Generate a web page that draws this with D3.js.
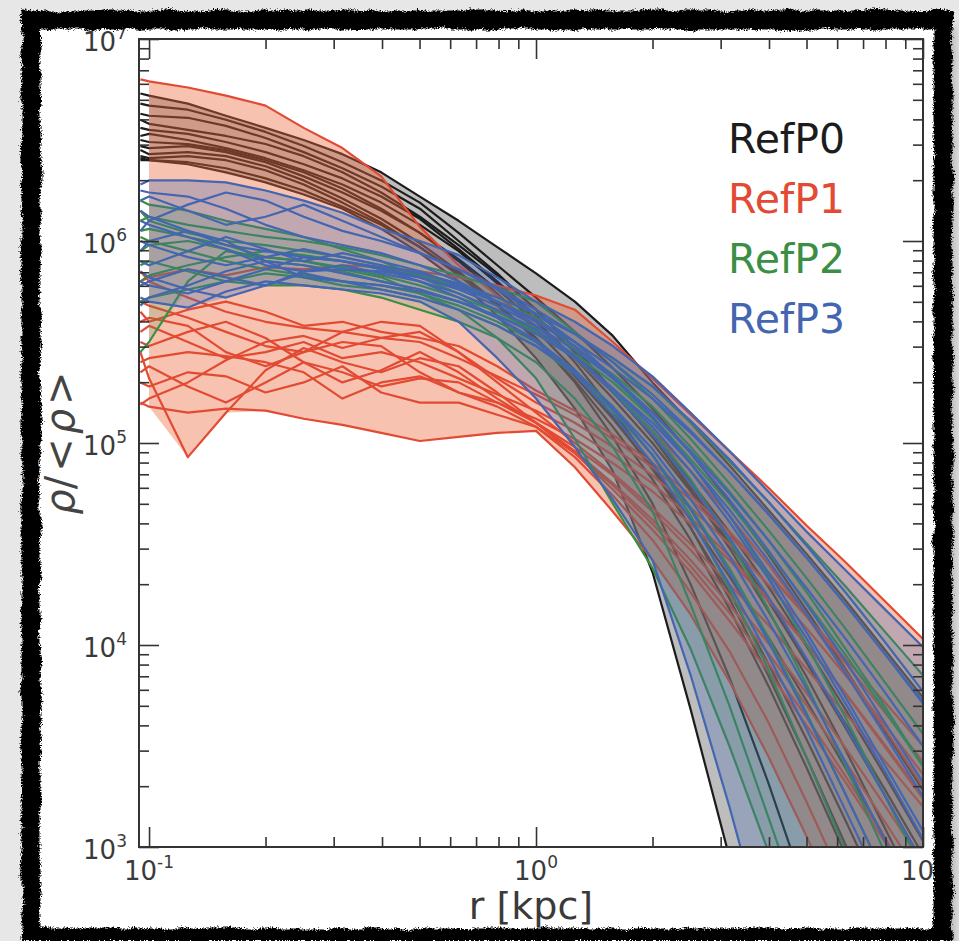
<!DOCTYPE html>
<html>
<head>
<meta charset="utf-8">
<script src="https://cdn.jsdelivr.net/npm/d3@7"></script>
<style>
  html, body { margin: 0; padding: 0; background: #e7e7e7; }
  svg { display: block; }
  text { font-family: "DejaVu Sans", sans-serif; }
</style>
</head>
<body>
<svg id="fig" width="959" height="941"></svg>
<script>
// Radial bins in kpc (first bin sits just inside the 0.1 kpc tick)
const radii = [0.095, 0.1, 0.126, 0.158, 0.2, 0.251, 0.316, 0.398, 0.501, 0.631, 0.794,
               1.0, 1.26, 1.58, 2.0, 2.51, 3.16, 3.98, 5.01, 6.31, 7.94, 10.0];

// Density profiles, log10(rho/<rho>), one row per halo
const refP0 = [
  [6.73,6.72,6.68,6.62,6.56,6.50,6.43,6.34,6.22,6.10,5.97,5.84,5.70,5.53,5.30,5.10,4.89,4.67,4.45,4.22,3.98,3.74],
  [6.68,6.67,6.65,6.60,6.54,6.47,6.39,6.30,6.19,6.04,5.88,5.72,5.55,5.37,5.17,4.95,4.71,4.45,4.17,3.88,3.58,3.28],
  [6.63,6.62,6.61,6.57,6.51,6.44,6.36,6.27,6.16,6.00,5.84,5.66,5.47,5.26,5.03,4.77,4.48,4.17,3.84,3.48,3.10,2.72],
  [6.60,6.58,6.55,6.52,6.48,6.42,6.34,6.24,6.12,5.98,5.83,5.66,5.47,5.26,5.03,4.78,4.51,4.22,3.91,3.59,3.26,2.92],
  [6.56,6.55,6.53,6.49,6.44,6.38,6.31,6.22,6.11,5.96,5.80,5.63,5.45,5.25,5.04,4.81,4.56,4.29,3.99,3.68,3.36,3.03],
  [6.52,6.53,6.50,6.46,6.41,6.35,6.28,6.19,6.08,5.95,5.79,5.61,5.40,5.16,4.89,4.58,4.23,3.85,3.44,3.01,2.56,2.10],
  [6.50,6.49,6.48,6.45,6.40,6.34,6.26,6.16,6.04,5.90,5.74,5.56,5.36,5.13,4.87,4.58,4.26,3.91,3.53,3.13,2.72,2.30],
  [6.47,6.46,6.47,6.44,6.39,6.32,6.24,6.15,6.04,5.91,5.76,5.60,5.42,5.22,5.00,4.76,4.50,4.22,3.92,3.61,3.29,2.96],
  [6.45,6.43,6.44,6.42,6.37,6.30,6.21,6.11,5.99,5.85,5.69,5.51,5.31,5.08,4.82,4.52,4.18,3.80,3.39,2.96,2.52,2.10],
  [6.42,6.41,6.42,6.40,6.35,6.28,6.19,6.09,5.97,5.83,5.68,5.52,5.33,5.12,4.88,4.62,4.34,4.04,3.72,3.39,3.05,2.70],
  [6.41,6.40,6.39,6.36,6.31,6.25,6.17,6.08,5.97,5.84,5.69,5.52,5.30,5.03,4.70,4.30,3.84,3.32,2.76,2.20,1.70,1.20],
  [6.40,6.40,6.38,6.34,6.29,6.23,6.16,6.06,5.94,5.80,5.63,5.42,5.17,4.86,4.36,3.68,2.95,2.20,1.50,0.90,0.50,0.10]
];
const refP1 = [
  [6.80,6.79,6.76,6.72,6.67,6.56,6.46,6.32,6.07,5.88,5.73,5.58,5.42,5.25,5.06,4.86,4.64,4.40,4.14,3.87,3.59,3.30],
  [5.80,5.82,5.86,5.83,5.87,5.86,5.88,5.87,5.85,5.82,5.78,5.73,5.66,5.50,5.32,5.14,4.96,4.78,4.59,4.41,4.22,4.03],
  [5.19,5.22,5.30,5.41,5.50,5.53,5.47,5.52,5.55,5.45,5.30,5.15,5.00,4.85,4.68,4.50,4.30,4.10,3.88,3.66,3.43,3.20],
  [5.45,5.32,4.93,5.15,5.36,5.47,5.40,5.35,5.42,5.38,5.25,5.10,4.95,4.77,4.57,4.36,4.12,3.87,3.60,3.32,3.03,2.74],
  [5.20,5.18,5.15,5.17,5.16,5.12,5.09,5.05,5.01,5.03,5.05,5.06,4.88,4.66,4.42,4.15,3.82,3.45,3.05,2.60,2.20,1.80],
  [5.60,5.62,5.58,5.45,5.38,5.45,5.55,5.60,5.58,5.45,5.32,5.20,5.10,4.98,4.84,4.68,4.50,4.30,4.08,3.85,3.61,3.36],
  [5.50,5.48,5.55,5.60,5.52,5.40,5.30,5.36,5.45,5.35,5.22,5.10,4.96,4.80,4.62,4.42,4.20,3.96,3.70,3.42,3.13,2.83],
  [5.70,5.68,5.62,5.55,5.48,5.45,5.50,5.48,5.35,5.25,5.18,5.08,4.93,4.74,4.52,4.26,3.97,3.62,3.22,2.80,2.40,2.00],
  [5.40,5.42,5.45,5.43,5.40,5.35,5.22,5.30,5.33,5.25,5.20,5.12,5.02,4.90,4.76,4.60,4.42,4.22,4.00,3.76,3.51,3.25],
  [5.85,5.80,5.72,5.65,5.60,5.57,5.55,5.52,5.50,5.42,5.33,5.24,5.14,5.02,4.88,4.72,4.54,4.35,4.14,3.93,3.72,3.50],
  [5.30,5.28,5.35,5.33,5.25,5.30,5.38,5.25,5.20,5.20,5.14,5.08,4.95,4.79,4.60,4.39,4.16,3.91,3.64,3.35,3.05,2.74],
  [5.55,5.58,5.50,5.42,5.45,5.50,5.42,5.45,5.40,5.32,5.24,5.16,5.06,4.94,4.80,4.63,4.44,4.23,4.00,3.76,3.50,3.24],
  [5.65,5.60,5.66,5.70,5.65,5.58,5.60,5.55,5.52,5.48,5.38,5.26,5.16,5.04,4.90,4.74,4.56,4.36,4.14,3.91,3.67,3.42],
  [5.35,5.38,5.28,5.20,5.30,5.40,5.35,5.28,5.32,5.30,5.20,5.10,4.98,4.84,4.66,4.47,4.25,4.01,3.76,3.49,3.21,2.92]
];
const refP2 = [
  [6.10,6.12,6.08,6.05,6.02,6.00,5.97,5.93,5.88,5.83,5.77,5.70,5.55,5.40,5.22,5.02,4.80,4.57,4.33,4.08,3.82,3.56],
  [5.45,5.50,5.80,5.95,5.92,5.90,5.86,5.82,5.74,5.66,5.52,5.32,5.02,4.70,4.38,3.98,3.50,2.98,2.40,1.80,1.20,0.60],
  [5.95,5.98,6.00,5.96,5.90,5.88,5.85,5.80,5.76,5.70,5.63,5.55,5.44,5.30,5.12,4.90,4.64,4.34,4.00,3.64,3.26,2.88],
  [6.20,6.18,6.15,6.10,6.06,6.02,5.96,5.90,5.82,5.74,5.65,5.55,5.42,5.26,5.06,4.82,4.52,4.18,3.80,3.40,2.98,2.56],
  [5.80,5.83,5.88,5.92,5.95,5.93,5.90,5.86,5.82,5.77,5.70,5.62,5.48,5.32,5.13,4.92,4.70,4.46,4.21,3.95,3.68,3.40],
  [6.02,6.00,5.95,5.90,5.86,5.83,5.80,5.78,5.74,5.68,5.60,5.50,5.36,5.18,4.94,4.64,4.28,3.88,3.44,2.98,2.50,2.00],
  [5.70,5.72,5.76,5.80,5.84,5.82,5.78,5.76,5.72,5.66,5.58,5.48,5.34,5.16,4.94,4.68,4.38,4.04,3.66,3.26,2.86,2.45],
  [6.15,6.10,6.04,6.00,5.98,5.95,5.92,5.88,5.83,5.78,5.72,5.64,5.54,5.42,5.28,5.10,4.91,4.71,4.50,4.29,4.07,3.85],
  [5.88,5.90,5.85,5.80,5.78,5.78,5.76,5.72,5.66,5.60,5.52,5.40,5.22,4.98,4.66,4.20,3.70,3.15,2.60,2.00,1.40,0.80],
  [6.05,6.06,6.02,5.98,5.92,5.90,5.87,5.83,5.78,5.72,5.65,5.57,5.47,5.34,5.18,4.98,4.76,4.52,4.26,3.98,3.70,3.40]
];
const refP3 = [
  [6.28,6.30,6.30,6.29,6.25,6.20,6.14,6.06,6.00,5.93,5.82,5.70,5.60,5.48,5.33,5.15,4.96,4.76,4.56,4.37,4.18,3.99],
  [6.20,6.22,6.15,6.08,6.12,6.18,6.10,6.02,5.94,5.86,5.77,5.66,5.54,5.40,5.24,5.06,4.86,4.65,4.43,4.20,3.96,3.72],
  [5.72,5.70,5.67,5.75,5.80,5.78,5.76,5.74,5.70,5.60,5.42,5.22,4.98,4.72,4.42,3.85,3.20,2.50,1.80,1.20,0.80,0.40],
  [6.05,6.10,6.18,6.24,6.20,6.12,6.05,6.00,5.94,5.86,5.76,5.64,5.50,5.33,5.13,4.90,4.64,4.36,4.06,3.74,3.41,3.08],
  [5.90,5.88,5.95,6.02,5.96,5.90,5.94,5.90,5.85,5.78,5.70,5.60,5.48,5.33,5.15,4.95,4.72,4.47,4.20,3.92,3.62,3.32],
  [5.78,5.80,5.86,5.82,5.78,5.85,5.88,5.84,5.80,5.74,5.66,5.56,5.43,5.27,5.08,4.86,4.61,4.33,4.03,3.71,3.38,3.04],
  [6.15,6.12,6.05,5.98,5.95,5.92,5.90,5.87,5.82,5.76,5.68,5.58,5.46,5.32,5.15,4.96,4.75,4.52,4.28,4.03,3.77,3.50],
  [5.85,5.82,5.76,5.72,5.78,5.84,5.80,5.76,5.72,5.66,5.58,5.48,5.35,5.18,4.97,4.72,4.44,4.12,3.78,3.42,3.04,2.66],
  [6.00,5.98,5.92,5.88,5.92,5.96,5.92,5.88,5.84,5.79,5.72,5.64,5.54,5.42,5.28,5.11,4.92,4.71,4.49,4.26,4.02,3.77],
  [6.25,6.24,6.22,6.16,6.08,6.02,5.98,5.94,5.88,5.80,5.70,5.58,5.43,5.25,5.04,4.80,4.53,4.24,3.93,3.60,3.26,2.92],
  [5.95,6.00,6.05,6.00,5.90,5.82,5.80,5.78,5.75,5.70,5.63,5.54,5.42,5.27,5.10,4.90,4.67,4.42,4.15,3.86,3.56,3.25],
  [5.68,5.72,5.78,5.85,5.90,5.88,5.84,5.80,5.76,5.70,5.62,5.51,5.36,5.17,4.94,4.67,4.36,4.02,3.65,3.26,2.86,2.45],
  [6.10,6.08,6.02,5.96,5.88,5.85,5.86,5.85,5.82,5.77,5.70,5.61,5.50,5.37,5.22,5.05,4.86,4.65,4.43,4.20,3.96,3.71],
  [5.80,5.78,5.74,5.80,5.86,5.92,5.90,5.86,5.80,5.72,5.62,5.50,5.34,5.14,4.90,4.62,4.30,3.95,3.58,3.18,2.78,2.36]
];

const seriesNames = ["RefP0", "RefP1", "RefP2", "RefP3"];
const seriesProfiles = [refP0, refP1, refP2, refP3];
const seriesColors = ["#1c1c1c", "#e24a33", "#3a8f44", "#4466b0"];
const fillColors = ["#000000", "#ec6a3a", "#3a8f44", "#4466b0"];
const fillOpacity = [0.26, 0.4, 0.18, 0.3];

const xMajor = [0.1, 1, 10];
const xMajorExp = ["-1", "0", "1"];
const yMajor = [1e3, 1e4, 1e5, 1e6, 1e7];
const yMajorExp = ["3", "4", "5", "6", "7"];

const W = 959, H = 941;
const plot = { left: 139, right: 923, top: 39, bottom: 847 };

const svg = d3.select("#fig");
const defs = svg.append("defs");

// Worn black photo border: coarse wobble plus fine jagged edge
const rough = defs.append("filter").attr("id", "rough")
  .attr("filterUnits", "userSpaceOnUse")
  .attr("x", 0).attr("y", 0).attr("width", W).attr("height", H);
rough.append("feTurbulence").attr("type", "fractalNoise").attr("baseFrequency", 0.06)
  .attr("numOctaves", 2).attr("seed", 2).attr("result", "coarse");
rough.append("feDisplacementMap").attr("in", "SourceGraphic").attr("in2", "coarse")
  .attr("scale", 6).attr("xChannelSelector", "R").attr("yChannelSelector", "G").attr("result", "wob");
rough.append("feTurbulence").attr("type", "fractalNoise").attr("baseFrequency", 0.7)
  .attr("numOctaves", 2).attr("seed", 4).attr("result", "fine");
rough.append("feDisplacementMap").attr("in", "wob").attr("in2", "fine")
  .attr("scale", 6).attr("xChannelSelector", "R").attr("yChannelSelector", "G");

const shadow = defs.append("filter").attr("id", "shadow")
  .attr("filterUnits", "userSpaceOnUse")
  .attr("x", 0).attr("y", 0).attr("width", W).attr("height", H);
shadow.append("feGaussianBlur").attr("stdDeviation", 6);

defs.append("clipPath").attr("id", "plotClip").append("rect")
  .attr("x", plot.left).attr("y", plot.top)
  .attr("width", plot.right - plot.left).attr("height", plot.bottom - plot.top);

// page background, shadow and white card
svg.append("rect").attr("width", W).attr("height", H).attr("fill", "#e7e7e7");
svg.append("rect").attr("x", 40).attr("y", 26).attr("width", 914).attr("height", 930)
  .attr("fill", "#000").attr("opacity", 0.28).attr("filter", "url(#shadow)");
svg.append("rect").attr("x", 31).attr("y", 20).attr("width", 912).attr("height", 930).attr("fill", "#fff");

// scales
const x = d3.scaleLog().domain([0.0942, 10]).range([plot.left, plot.right]);
const y = d3.scaleLog().domain([1e3, 1e7]).range([plot.bottom, plot.top]);

const line = d3.line()
  .x((d, i) => x(radii[i]))
  .y(d => y(Math.pow(10, d)));

const area = d3.area()
  .x(d => x(d.r))
  .y0(d => y(Math.pow(10, d.lo)))
  .y1(d => y(Math.pow(10, d.hi)));

const dataLayer = svg.append("g").attr("clip-path", "url(#plotClip)");

// each run: its min/max envelope, then its profiles, one run after another
seriesProfiles.forEach((profiles, s) => {
  const env = radii.slice(1).map((r, j) => {
    const vals = profiles.map(p => p[j + 1]);
    return { r, lo: d3.min(vals), hi: d3.max(vals) };
  });
  const g = dataLayer.append("g").attr("class", seriesNames[s]);
  g.append("path").datum(env).attr("d", area)
    .attr("fill", fillColors[s]).attr("fill-opacity", fillOpacity[s]).attr("stroke", "none");
  g.selectAll("path.profile").data(profiles).join("path")
    .attr("class", "profile")
    .attr("d", line)
    .attr("fill", "none")
    .attr("stroke", seriesColors[s])
    .attr("stroke-width", 2.2)
    .attr("stroke-linejoin", "round");
});

// axes: inward ticks on all four sides
const isMajor = v => Math.abs(Math.log10(v) - Math.round(Math.log10(v))) < 1e-9;
const xMinor = x.ticks().filter(v => !isMajor(v));
const yMinor = y.ticks().filter(v => !isMajor(v));
const axisColor = "#333";

function drawAxis(axisFn, scale, values, size, transform) {
  const g = svg.append("g").attr("transform", transform)
    .call(axisFn(scale).tickValues(values).tickSizeInner(-size).tickSizeOuter(0).tickFormat(""));
  g.select(".domain").remove();
  g.selectAll(".tick line").attr("stroke", axisColor).attr("stroke-width", 1.6);
}
drawAxis(d3.axisBottom, x, xMinor, 10, `translate(0,${plot.bottom})`);
drawAxis(d3.axisBottom, x, xMajor, 20, `translate(0,${plot.bottom})`);
drawAxis(d3.axisTop, x, xMinor, 10, `translate(0,${plot.top})`);
drawAxis(d3.axisTop, x, xMajor, 20, `translate(0,${plot.top})`);
drawAxis(d3.axisLeft, y, yMinor, 10, `translate(${plot.left},0)`);
drawAxis(d3.axisLeft, y, yMajor, 20, `translate(${plot.left},0)`);
drawAxis(d3.axisRight, y, yMinor, 10, `translate(${plot.right},0)`);
drawAxis(d3.axisRight, y, yMajor, 20, `translate(${plot.right},0)`);

svg.append("rect")
  .attr("x", plot.left).attr("y", plot.top)
  .attr("width", plot.right - plot.left).attr("height", plot.bottom - plot.top)
  .attr("fill", "none").attr("stroke", axisColor).attr("stroke-width", 2);

// power-of-ten tick labels
const labelColor = "#3a3a3a";
function powLabel(sel, exp) {
  sel.append("tspan").text("10").style("font-size", "26px");
  sel.append("tspan").text(exp).attr("dy", -12).style("font-size", "17px");
}
xMajor.forEach((v, i) => {
  const t = svg.append("text").attr("x", x(v)).attr("y", 880)
    .attr("text-anchor", "middle").attr("fill", labelColor);
  powLabel(t, xMajorExp[i]);
});
yMajor.forEach((v, i) => {
  const t = svg.append("text").attr("x", 127).attr("y", y(v) + 12)
    .attr("text-anchor", "end").attr("fill", labelColor);
  powLabel(t, yMajorExp[i]);
});

// axis titles
svg.append("text").attr("x", (plot.left + plot.right) / 2).attr("y", 919)
  .attr("text-anchor", "middle").attr("fill", labelColor)
  .style("font-size", "38px").text("r [kpc]");

const yl = svg.append("text").attr("transform", `translate(74,${(plot.top + plot.bottom) / 2}) rotate(-90)`)
  .attr("text-anchor", "middle").attr("fill", "#444").style("font-size", "40px");
yl.append("tspan").text("ρ").style("font-style", "italic");
yl.append("tspan").text("/");
yl.append("tspan").text("<").attr("dx", 4);
yl.append("tspan").text("ρ").style("font-style", "italic").attr("dx", 4);
yl.append("tspan").text(">").attr("dx", 4);

// legend: coloured names only
seriesNames.forEach((name, i) => {
  svg.append("text").attr("x", 728).attr("y", 153 + i * 60)
    .attr("fill", seriesColors[i]).style("font-size", "41px").text(name);
});

// black worn border on top of everything
svg.append("rect").attr("x", 31).attr("y", 20).attr("width", 912).attr("height", 918)
  .attr("fill", "none").attr("stroke", "#000").attr("stroke-width", 19)
  .attr("filter", "url(#rough)");
</script>
</body>
</html>
